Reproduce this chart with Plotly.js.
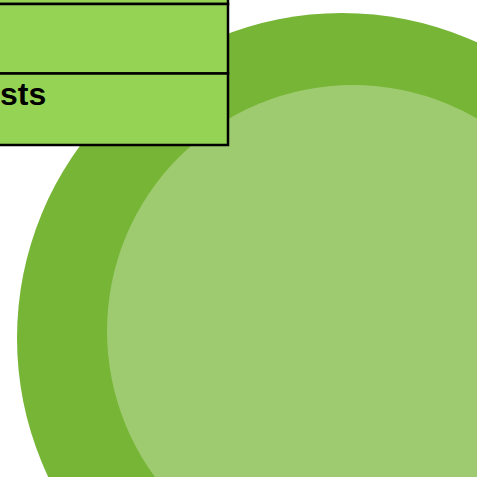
<!DOCTYPE html>
<html>
<head>
<meta charset="utf-8">
<script src="https://cdn.plot.ly/plotly-3.0.1.min.js"></script>
<style>html,body{margin:0;padding:0;background:#fff;overflow:hidden}#chart{width:477px;height:477px}</style>
</head>
<body>
<div id="chart"></div>
<script>
// Diagram content
var rings = ["outer", "inner"];
var ringColors = ["#76b535", "#9ecb6f"];
var rowLabels = ["", "", "sts"];

// Geometry (pixel space of the 477x477 canvas)
var ringGeom = [
  {cx: 342, cy: 338, r: 325},
  {cx: 353, cy: 331, r: 246}
];
var rowEdges = [-66, 4, 73.5, 145];
var tableLeft = -10, tableRight = 228;

var shapes = [];
rings.forEach(function (name, i) {
  var g = ringGeom[i];
  shapes.push({type: "circle", xref: "x", yref: "y",
    x0: g.cx - g.r, x1: g.cx + g.r, y0: g.cy - g.r, y1: g.cy + g.r,
    fillcolor: ringColors[i], line: {width: 0}, layer: "below"});
});
var annotations = [];
rowLabels.forEach(function (lab, i) {
  shapes.push({type: "rect", xref: "x", yref: "y",
    x0: tableLeft, x1: tableRight, y0: rowEdges[i], y1: rowEdges[i + 1],
    fillcolor: "#95d354", line: {color: "#000", width: 2.5}, layer: "above"});
  if (lab) {
    annotations.push({xref: "x", yref: "y", x: 0, y: (rowEdges[i] + rowEdges[i + 1]) / 2 - 15,
      xanchor: "left", yanchor: "middle", text: "<b>" + lab + "</b>", showarrow: false,
      borderpad: 0, xshift: -1,
      font: {family: "Liberation Sans, Arial, sans-serif", size: 32, color: "#000"}});
  }
});

Plotly.newPlot("chart", [{x: [0], y: [0], mode: "markers", marker: {opacity: 0}, hoverinfo: "skip", showlegend: false}], {
  width: 477, height: 477,
  margin: {l: 0, r: 0, t: 0, b: 0},
  paper_bgcolor: "#fff", plot_bgcolor: "#fff",
  xaxis: {range: [0, 477], visible: false, fixedrange: true},
  yaxis: {range: [477, 0], visible: false, fixedrange: true},
  shapes: shapes,
  annotations: annotations,
  showlegend: false
}, {displayModeBar: false, staticPlot: true});
</script>
</body>
</html>
